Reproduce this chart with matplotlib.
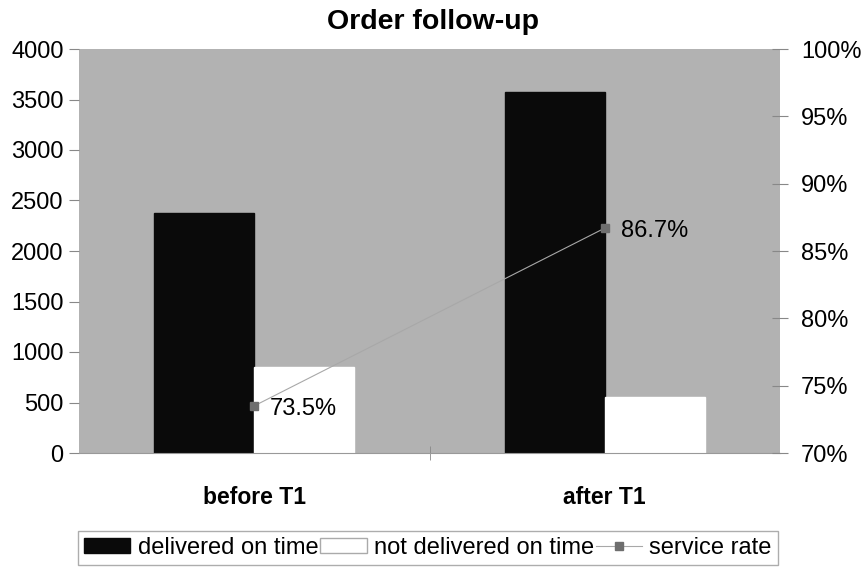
import numpy as np
import matplotlib.pyplot as plt
from matplotlib.ticker import FuncFormatter, FixedLocator

categories = ['before T1', 'after T1']
delivered = [2376, 3574]
not_delivered = [851, 554]
service_rate = [73.5, 86.7]

plt.rcParams['font.family'] = ['Liberation Sans', 'DejaVu Sans']

fig = plt.figure(figsize=(8.66, 5.69), dpi=100)
ax = fig.add_axes([79/866, 1-453/569, 701/866, 404/569])
ax.set_facecolor('#b2b2b2')

x = np.arange(len(categories))
w = 0.285
b1 = ax.bar(x - w/2, delivered, w, color='#0a0a0a', edgecolor='#0a0a0a', label='delivered on time')
b2 = ax.bar(x + w/2, not_delivered, w, color='white', edgecolor='white', label='not delivered on time')
ax.set_xlim(-0.5, 1.5)
ax.set_ylim(0, 4000)
ax.set_yticks(np.arange(0, 4001, 500))
ax.set_xticks(x)
ax.set_xticklabels(categories, fontsize=16.5, fontweight='bold')
ax.tick_params(axis='x', length=0, pad=24)
ax.xaxis.set_minor_locator(FixedLocator([0.5]))
ax.tick_params(axis='x', which='minor', length=10, color='#888888', direction='inout')
ax.tick_params(axis='y', labelsize=17, length=7, color='#888888', pad=4)
for s in ['top', 'right', 'left']:
    ax.spines[s].set_visible(False)
ax.spines['bottom'].set_color('#999999')

ax2 = ax.twinx()
line, = ax2.plot(x, service_rate, color='#a8a8a8', lw=0.8, marker='s', ms=6,
                 mfc='#6e6e6e', mec='#6e6e6e', label='service rate')
ax2.set_ylim(70, 100)
ax2.set_yticks(np.arange(70, 101, 5))
ax2.yaxis.set_major_formatter(FuncFormatter(lambda v, p: f'{v:.0f}%'))
ax2.tick_params(axis='y', labelsize=17, length=12, color='#888888', pad=9, direction='inout')
for s in ['top', 'right', 'left', 'bottom']:
    ax2.spines[s].set_visible(False)
for xi, v in zip(x, service_rate):
    ax2.text(xi + 0.045, v - 0.2, f'{v}%', fontsize=17, va='center', ha='left')

fig.text(0.5, 1-22/569, 'Order follow-up', ha='center', va='center', fontsize=20.5, fontweight='bold')

leg = fig.legend(handles=[b1, b2, line], loc='center', bbox_to_anchor=(428/866, 1-548/569),
                 ncol=3, fontsize=17, frameon=True, fancybox=False, edgecolor='#999999',
                 handlelength=1.95, handleheight=0.6, handletextpad=0.3, columnspacing=0.1,
                 borderpad=0.25, borderaxespad=0)
leg.legend_handles[1].set_edgecolor('#aaaaaa')

fig.savefig('out.png', dpi=100, facecolor='white')
